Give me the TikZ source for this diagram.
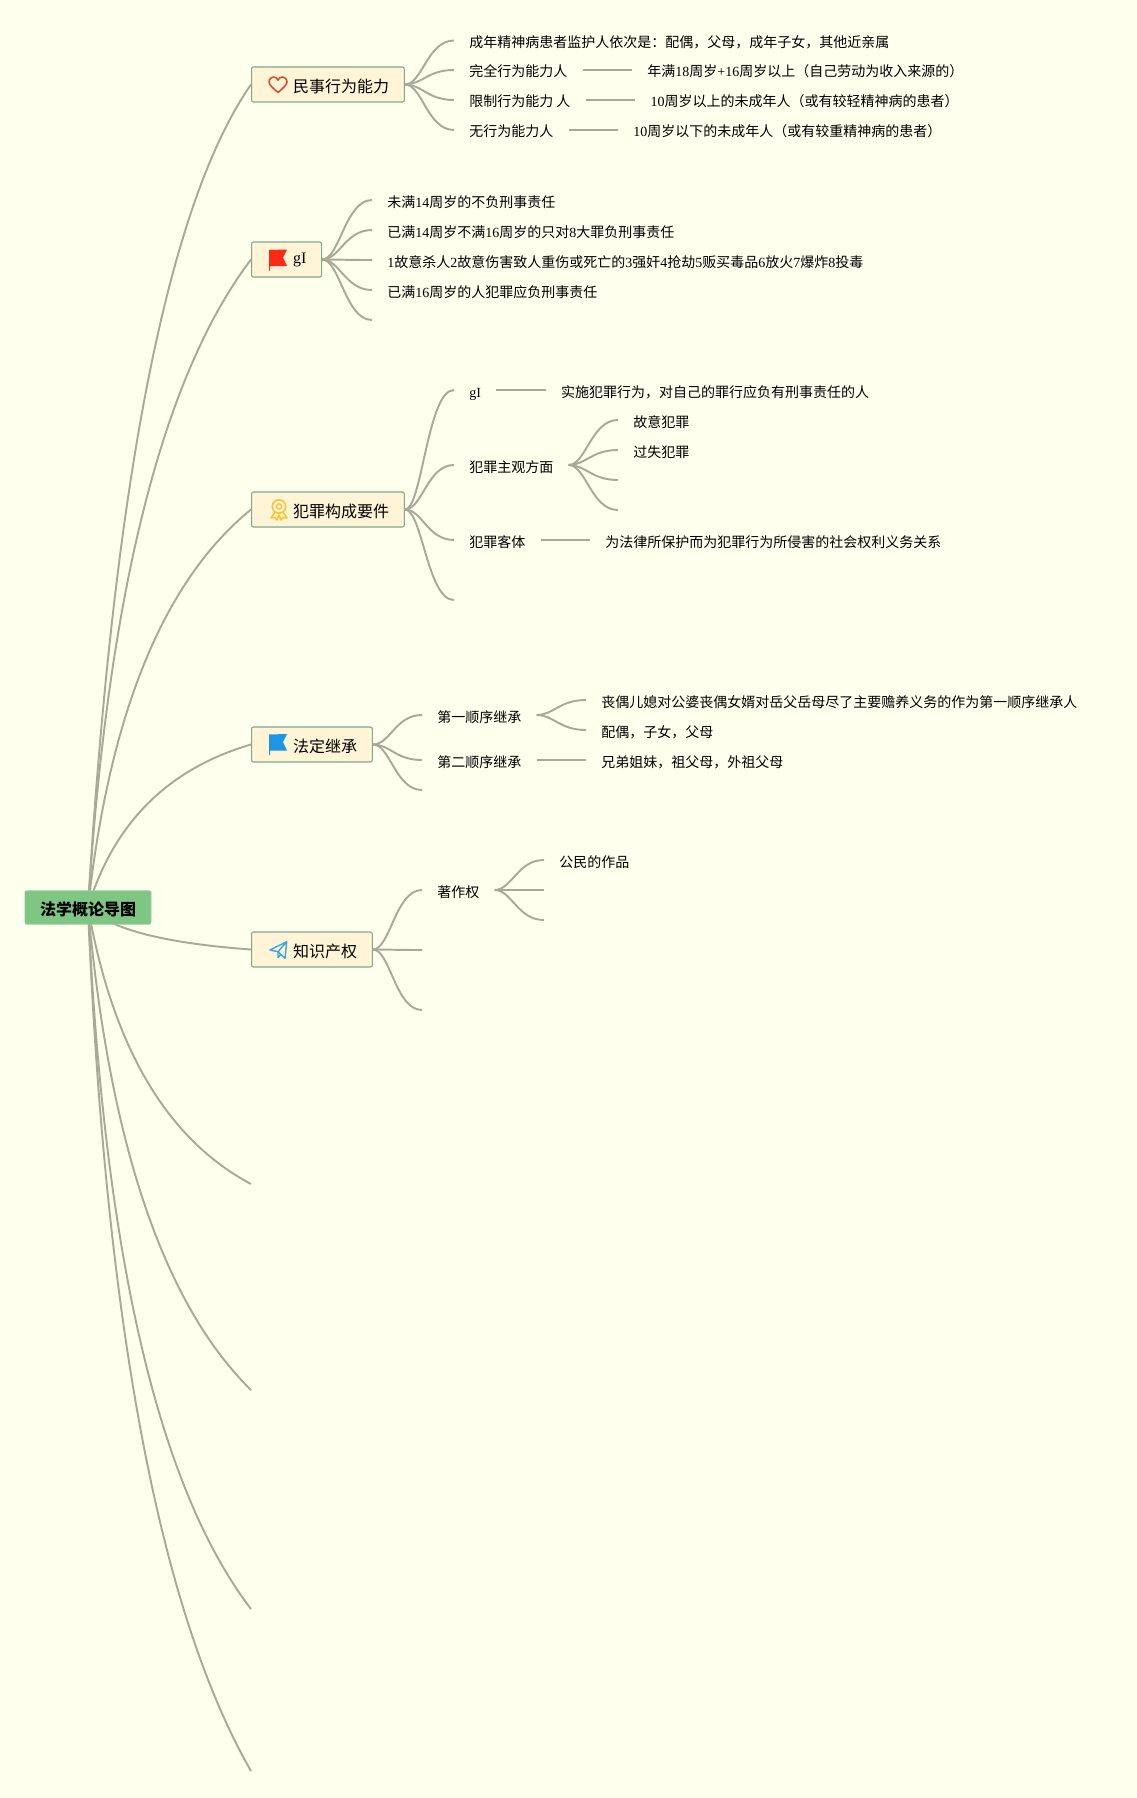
\documentclass[tikz,border=0pt]{standalone}
\usepackage{fontspec}
\usetikzlibrary{positioning,backgrounds}
\setmainfont{Noto Sans CJK SC}
\newfontfamily\latinfont{Liberation Serif}
\newcommand{\ltn}[1]{{\latinfont #1}}
\definecolor{pagetint}{HTML}{FEFFEC}
\definecolor{linktint}{HTML}{A9A997}
\definecolor{boxtint}{HTML}{FFF4D6}
\definecolor{boxedge}{HTML}{7AA98B}
\definecolor{roottint}{HTML}{7FC684}
\definecolor{hearttint}{HTML}{D9452B}
\definecolor{redflag}{HTML}{FC2A14}
\definecolor{blueflag}{HTML}{1C96E6}
\definecolor{medaltint}{HTML}{FBC431}
\definecolor{planetint}{HTML}{3DA8DC}
\tikzset{
  root/.style={rectangle, rounded corners=1.5pt, fill=roottint, draw=roottint!85!white, line width=0.7pt,
    minimum width=94.5pt, minimum height=25pt, font=\fontsize{12}{14}\selectfont\bfseries, text height=11.4pt, text depth=0pt, inner sep=0pt},
  branch/.style={rectangle, rounded corners=1.5pt, fill=boxtint, draw=boxedge, line width=0.8pt, anchor=west,
    minimum height=26.25pt, inner xsep=11.4pt, inner ysep=0pt, font=\fontsize{12}{14}\selectfont, text height=11.4pt, text depth=0pt},
  leaf/.style={inner xsep=11.25pt, inner ysep=0pt, anchor=west, font=\fontsize{10.5}{12}\selectfont, text height=10.5pt, text depth=0pt},
  bough/.style={draw=linktint, line width=1.45pt},
  twig/.style={draw=linktint, line width=1.45pt, out=0, in=180, out distance=13pt, in distance=20pt},
  heartmark/.pic={\draw [line width=1.1pt, draw=hearttint] (0,7.5) .. controls (-4,4) and (-9,0) .. (-9,-3) .. controls (-9,-6.5) and (-6,-8) .. (-4.5,-8) .. controls (-2.5,-8) and (-1,-7) .. (0,-5) .. controls (1,-7) and (2.5,-8) .. (4.5,-8) .. controls (6,-8) and (9,-6.5) .. (9,-3) .. controls (9,0) and (4,4) .. (0,7.5) -- cycle;},
  flagmark/.pic={\fill (0,0) -- (18,-0.5) -- (14,7.5) -- (18,16) -- (1,16) -- (1,20.5) -- (0,20.5) -- cycle;},
  medalmark/.pic={
    \draw [line width=1.2pt, draw=medaltint] (0,-2.5) circle (6.7);
    \draw [line width=1pt, draw=medaltint] (0,-2.5) circle (2.6);
    \draw [line width=1.2pt, draw=medaltint, line join=round] (-4,3) -- (-8,9) -- (-4,8.5) -- (-2,11) -- (0,6) -- (2,11) -- (4,8.5) -- (8,9) -- (4,3);},
  planemark/.pic={
    \draw [line width=1.1pt, draw=planetint, line join=round] (8.7,-8.3) -- (-8,0) -- (0,1.7) -- (7,8.3) -- cycle (8.7,-8.3) -- (0,1.7) -- (0,7.5) -- (3,4.5);},
}
\begin{document}
\begin{tikzpicture}[x=0.75pt, y=-0.75pt]
\useasboundingbox (0,0) rectangle (1137,1798);
% Nodes
\node [root] (root) at (88,907.5) {法学概论导图};
\node [branch] (n1) at (251,84.5) {\hspace*{19.8pt}民事行为能力};
\node [branch] (n2) at (251,259.5) {\hspace*{19.8pt}\raisebox{3pt}{\ltn{gI}}};
\node [branch] (n3) at (251,509.5) {\hspace*{19.8pt}犯罪构成要件};
\node [branch] (n4) at (251,744.5) {\hspace*{19.8pt}法定继承};
\node [branch] (n5) at (251,949.5) {\hspace*{19.8pt}知识产权};
\coordinate (n6) at (251,1184);
\coordinate (n7) at (251,1390);
\coordinate (n8) at (251,1609);
\coordinate (n9) at (251,1771);
% Icons
\pic at (278,85) {heartmark};
\pic [fill=redflag] at (269,250) {flagmark};
\pic at (279,509) {medalmark};
\pic [fill=blueflag] at (269,734.5) {flagmark};
\pic at (278,950) {planemark};
% ---
% n1
% ---
\node [leaf] (n1a) at (454,40.5) {成年精神病患者监护人依次是：配偶，父母，成年子女，其他近亲属};
\node [leaf] (n1b) at (454,70) {完全行为能力人};
\node [leaf] (n1c) at (454,100) {限制行为能力 人};
\node [leaf] (n1d) at (454,130) {无行为能力人};
\node [leaf, right=37.2pt of n1b] (n1bx) {年满\ltn{18}周岁\ltn{+16}周岁以上（自己劳动为收入来源的）};
\node [leaf, right=37.2pt of n1c] (n1cx) {\ltn{10}周岁以上的未成年人（或有较轻精神病的患者）};
\node [leaf, right=37.2pt of n1d] (n1dx) {\ltn{10}周岁以下的未成年人（或有较重精神病的患者）};
% ---
% n2
% ---
\node [leaf] (n2a) at (372,200) {未满\ltn{14}周岁的不负刑事责任};
\node [leaf] (n2b) at (372,230) {已满\ltn{14}周岁不满\ltn{16}周岁的只对\ltn{8}大罪负刑事责任};
\node [leaf] (n2c) at (372,260) {\ltn{1}故意杀人\ltn{2}故意伤害致人重伤或死亡的\ltn{3}强奸\ltn{4}抢劫\ltn{5}贩买毒品\ltn{6}放火\ltn{7}爆炸\ltn{8}投毒};
\node [leaf] (n2d) at (372,290) {已满\ltn{16}周岁的人犯罪应负刑事责任};
\coordinate (n2e) at (372,320);
% ---
% n3
% ---
\node [leaf] (n3a) at (454,390) {\ltn{gI}};
\node [leaf] (n3b) at (454,465) {犯罪主观方面};
\node [leaf] (n3c) at (454,540) {犯罪客体};
\coordinate (n3d) at (454,600);
\node [leaf, right=37.2pt of n3a] (n3ax) {实施犯罪行为，对自己的罪行应负有刑事责任的人};
\node [leaf] (n3b1) at (618,420) {故意犯罪};
\node [leaf] (n3b2) at (618,450) {过失犯罪};
\coordinate (n3b3) at (618,480);
\coordinate (n3b4) at (618,510);
\node [leaf, right=37.2pt of n3c] (n3cx) {为法律所保护而为犯罪行为所侵害的社会权利义务关系};
% ---
% n4
% ---
\node [leaf] (n4a) at (422,715) {第一顺序继承};
\node [leaf] (n4b) at (422,760) {第二顺序继承};
\coordinate (n4c) at (422,790);
\node [leaf] (n4a1) at (586,700) {丧偶儿媳对公婆丧偶女婿对岳父岳母尽了主要赡养义务的作为第一顺序继承人};
\node [leaf] (n4a2) at (586,730) {配偶，子女，父母};
\node [leaf, right=37.2pt of n4b] (n4bx) {兄弟姐妹，祖父母，外祖父母};
% ---
% n5
% ---
\node [leaf] (n5a) at (422,890) {著作权};
\coordinate (n5b) at (422,950);
\coordinate (n5c) at (422,1010);
\node [leaf] (n5a1) at (544,860) {公民的作品};
\coordinate (n5a2) at (544,890);
\coordinate (n5a3) at (544,920);
% Links
\begin{scope}[on background layer]
\fill [pagetint] (0,0) rectangle (1137,1798);
\draw [bough] (root.center) .. controls +(26,-429.3) and +(-82.7,119) .. (n1.west);
\draw [bough] (root.center) .. controls +(20,-314.7) and +(-88.7,117) .. (n2.west);
\draw [bough] (root.center) .. controls +(21.3,-194) and +(-87.3,71) .. (n3.west);
\draw [bough] (root.center) .. controls +(25.3,-84) and +(-83.3,24.3) .. (n4.west);
\draw [bough] (root.center) .. controls +(22.7,22) and +(-86,-6.3) .. (n5.west);
\draw [bough] (root.center) .. controls +(24.7,140) and +(-84,-44.7) .. (n6);
\draw [bough] (root.center) .. controls +(21.3,236) and +(-87.3,-86) .. (n7);
\draw [bough] (root.center) .. controls +(16,346.7) and +(-92.7,-121.3) .. (n8);
\draw [bough] (root.center) .. controls +(17.3,416.7) and +(-91.3,-159.3) .. (n9);
\end{scope}
\path (n1) edge [twig] (n1a);
\path (n1) edge [twig] (n1b);
\path (n1) edge [twig] (n1c);
\path (n1) edge [twig] (n1d);
\path (n1b) edge [twig] (n1bx);
\path (n1c) edge [twig] (n1cx);
\path (n1d) edge [twig] (n1dx);

\path (n2) edge [twig] (n2a);
\path (n2) edge [twig] (n2b);
\path (n2) edge [twig] (n2c);
\path (n2) edge [twig] (n2d);
\path (n2) edge [twig] (n2e);

\path (n3) edge [twig] (n3a);
\path (n3) edge [twig] (n3b);
\path (n3) edge [twig] (n3c);
\path (n3) edge [twig] (n3d);
\path (n3a) edge [twig] (n3ax);
\path (n3b) edge [twig] (n3b1);
\path (n3b) edge [twig] (n3b2);
\path (n3b) edge [twig] (n3b3);
\path (n3b) edge [twig] (n3b4);
\path (n3c) edge [twig] (n3cx);

\path (n4) edge [twig] (n4a);
\path (n4) edge [twig] (n4b);
\path (n4) edge [twig] (n4c);
\path (n4a) edge [twig] (n4a1);
\path (n4a) edge [twig] (n4a2);
\path (n4b) edge [twig] (n4bx);

\path (n5) edge [twig] (n5a);
\path (n5) edge [twig] (n5b);
\path (n5) edge [twig] (n5c);
\path (n5a) edge [twig] (n5a1);
\path (n5a) edge [twig] (n5a2);
\path (n5a) edge [twig] (n5a3);
\end{tikzpicture}
\end{document}
